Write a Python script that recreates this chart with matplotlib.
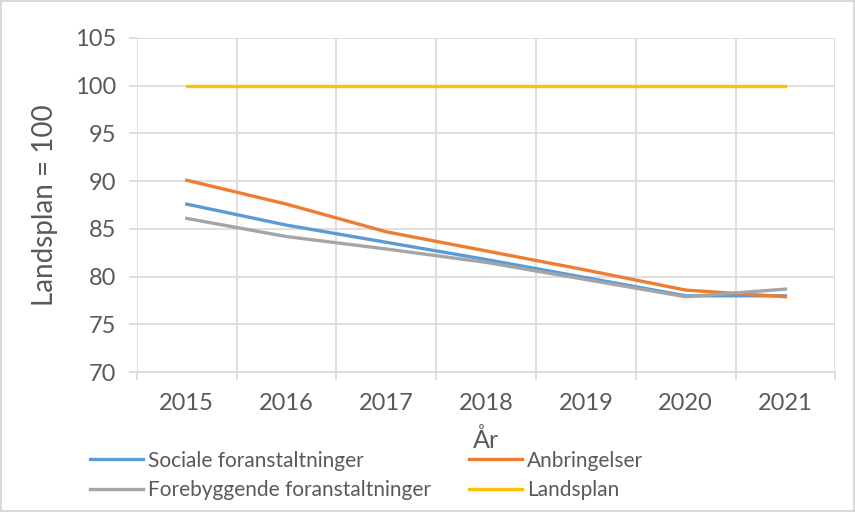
import numpy as np
import matplotlib.pyplot as plt

years = ["2015", "2016", "2017", "2018", "2019", "2020", "2021"]
sociale = [87.6, 85.4, 83.6, 81.8, 79.9, 78.0, 78.0]
anbringelser = [90.1, 87.6, 84.7, 82.7, 80.7, 78.6, 77.9]
forebyggende = [86.1, 84.2, 82.9, 81.5, 79.7, 77.9, 78.7]
landsplan = [100, 100, 100, 100, 100, 100, 100]

plt.rcParams["font.family"] = ["Lato", "DejaVu Sans"]
text_col = "#595959"
grid_col = "#d9d9d9"

fig = plt.figure(figsize=(8.55, 5.12), dpi=100)
fig.patch.set_edgecolor(grid_col)
fig.patch.set_linewidth(1.5)
ax = fig.add_axes([0.160, 0.273, 0.817, 0.653])

x = np.arange(len(years))
lw = 2.4
l1, = ax.plot(x, sociale, color="#5B9BD5", lw=lw, label="Sociale foranstaltninger")
l2, = ax.plot(x, anbringelser, color="#ED7D31", lw=lw, label="Anbringelser")
l3, = ax.plot(x, forebyggende, color="#A5A5A5", lw=lw, label="Forebyggende foranstaltninger")
l4, = ax.plot(x, landsplan, color="#FFC000", lw=lw, label="Landsplan")

ax.set_xlim(-0.5, len(years) - 0.5)
ax.set_ylim(70, 105)
ax.set_yticks(range(70, 106, 5))
ax.set_xticks(x)
ax.set_xticklabels(years)
ax.set_xticks(np.arange(-0.5, len(years)), minor=True)

ax.grid(True, which="major", axis="y", color=grid_col, lw=1.2)
ax.grid(True, which="minor", axis="x", color=grid_col, lw=1.2)
ax.set_axisbelow(True)

for s in ["top", "right", "left"]:
    ax.spines[s].set_visible(False)
ax.spines["bottom"].set_color(grid_col)
ax.spines["bottom"].set_linewidth(1.2)

ax.tick_params(axis="x", which="major", length=0, pad=15, labelsize=17, labelcolor=text_col)
ax.tick_params(axis="x", which="minor", length=6, color=grid_col, width=1.2)
ax.tick_params(axis="y", length=6, color=grid_col, width=1.2, labelsize=17, labelcolor=text_col, pad=9)

ax.set_ylabel("Landsplan = 100", fontsize=20, color=text_col, labelpad=12)
ax.set_xlabel("År", fontsize=18, color=text_col, labelpad=10)

# Excel fills legend row-wise, matplotlib column-wise
fig.legend([l1, l3, l2, l4], [h.get_label() for h in [l1, l3, l2, l4]],
           loc="upper left", bbox_to_anchor=(0.105, 0.120), ncol=2, frameon=False,
           fontsize=15, labelcolor=text_col, handlelength=2.55, handletextpad=0.25,
           columnspacing=1.8, labelspacing=0.45, borderpad=0, borderaxespad=0)

fig.savefig("out.png", dpi=100)
